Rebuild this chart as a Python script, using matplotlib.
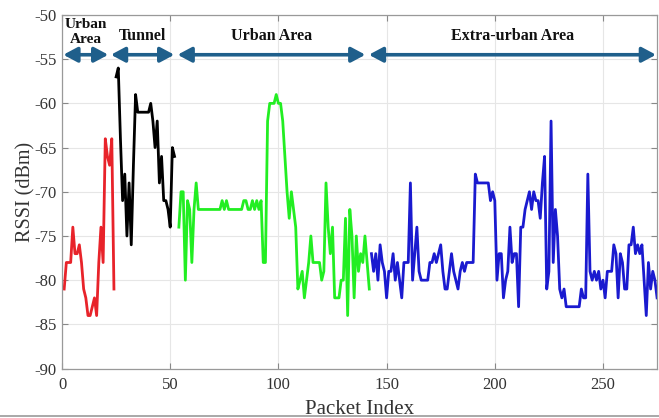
import matplotlib
matplotlib.use("Agg")
import matplotlib.pyplot as plt
import numpy as np

plt.rcParams['font.family'] = ['Liberation Serif', 'DejaVu Serif']
plt.rcParams['axes.unicode_minus'] = False

# ---- data ----
red_x = list(range(1, 25))
red_y = [-81, -78, -78, -78, -74, -77, -77, -76, -78, -81, -82, -84,
         -84, -83, -82, -84, -78, -74, -78, -64, -66, -67, -64, -81]

black_x = list(range(25, 53))
black_y = [-57, -56, -64, -71, -68, -75, -69, -76, -67, -59, -61, -61,
           -61, -61, -61, -61, -60, -62, -65, -62, -69, -66, -71, -71,
           -72, -74, -65, -66]

green_x = list(range(54, 143))
green_y = [-74, -70, -70, -80, -71, -72, -78, -72, -69, -72,
           -72, -72, -72, -72, -72, -72, -72, -72, -72, -72,
           -71, -72, -71, -72, -72, -72, -72, -72, -72, -72,
           -71, -71, -72, -72, -71, -72, -71, -72, -71, -78,
           -78, -62, -60, -60, -60, -59, -60, -60, -62, -66,
           -70, -73, -70, -72, -74, -81, -80, -79, -82, -80,
           -78, -75, -78, -78, -78, -78, -80, -79, -69, -74,
           -77, -74, -82, -82, -82, -80, -80, -73, -84, -72,
           -75, -82, -75, -79, -77, -78, -75, -78, -81]

blue_x = list(range(143, 276))
blue_y = [-77, -79, -77, -80, -76, -78, -79, -82, -79, -79,
          -77, -80, -78, -80, -82, -78, -78, -78, -69, -80,
          -77, -74, -79, -80, -80, -80, -80, -78, -78, -77,
          -78, -77, -76, -79, -81, -81, -79, -77, -79, -80,
          -81, -79, -78, -79, -78, -78, -78, -78, -68, -69,
          -69, -69, -69, -69, -69, -71, -70, -71, -80, -77,
          -77, -82, -80, -79, -74, -78, -77, -77, -83, -74,
          -74, -72, -71, -70, -72, -70, -71, -71, -73, -69,
          -66, -81, -79, -62, -78, -72, -75, -81, -82, -81,
          -83, -83, -83, -83, -83, -83, -83, -81, -82, -82,
          -68, -79, -80, -79, -80, -79, -81, -80, -82, -79,
          -79, -79, -76, -77, -82, -77, -78, -81, -81, -76,
          -76, -74, -77, -76, -77, -76, -80, -84, -78, -81,
          -79, -80, -82]

region_labels = ["Urban\nArea", "Tunnel", "Urban Area", "Extra-urban Area"]
region_start = [0.6, 22.6, 53.4, 141.8]
region_end = [21.4, 51.9, 140.2, 274.5]
x_ticks = [0, 50, 100, 150, 200, 250]
y_ticks = [-90, -85, -80, -75, -70, -65, -60, -55, -50]

fig = plt.figure(figsize=(6.59, 4.18), dpi=100)
ax = fig.add_axes([0.0941, 0.1182, 0.903, 0.846])

lw = 2.0
ax.plot(red_x, red_y, color='#e8232a', lw=lw)
ax.plot(black_x, black_y, color='black', lw=lw)
ax.plot(green_x, green_y, color='#22ee22', lw=lw)
ax.plot(blue_x, blue_y, color='#1a1acf', lw=lw)

ax.set_xlim(0, 275)
ax.set_ylim(-90, -50)
ax.set_xticks(x_ticks)
ax.set_yticks(y_ticks)
ax.grid(True, color='#e6e6e6', lw=0.8)
ax.set_axisbelow(True)
ax.tick_params(direction='in', length=4, color='#888888', labelsize=12,
               labelcolor='#333333', top=True, right=True)
ax.tick_params(axis='x', pad=6)
ax.tick_params(axis='y', pad=4)
for s in ax.spines.values():
    s.set_color('#999999')
    s.set_linewidth(0.9)
ax.set_xlabel('Packet Index', fontsize=15, color='#333333', labelpad=5)
ax.set_ylabel('RSSI (dBm)', fontsize=14.5, color='#333333', labelpad=-1)

arrow_y = -54.5
arrow_col = '#1f5f8b'
for s, e, lab in zip(region_start, region_end, region_labels):
    ax.annotate('', xy=(e, arrow_y), xytext=(s, arrow_y),
                arrowprops=dict(arrowstyle='<|-|>,head_length=0.6,head_width=0.32',
                                color=arrow_col, lw=2.6,
                                mutation_scale=14, shrinkA=0, shrinkB=0))
    if '\n' in lab:
        ax.text((s + e) / 2, -51.9, lab, ha='center', va='center', fontsize=11,
                fontweight='bold', color='#111111', linespacing=1.2)
    else:
        ax.text((s + e) / 2, -52.4, lab, ha='center', va='center', fontsize=11.5,
                fontweight='bold', color='#111111')

fig.add_artist(plt.Line2D([0, 1], [0.004, 0.004], color='#999999', lw=1.2,
                          transform=fig.transFigure))

fig.savefig('out.png', dpi=100)
